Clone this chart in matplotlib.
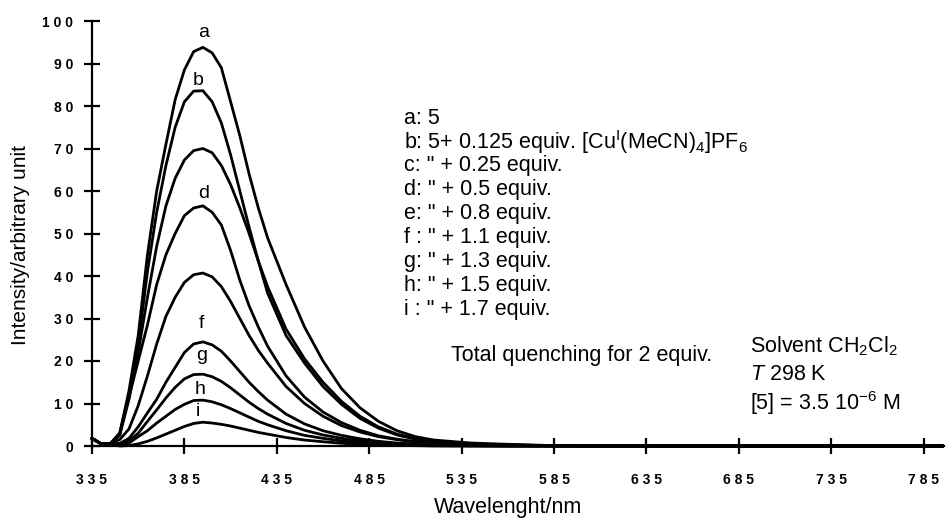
import matplotlib
matplotlib.use("Agg")
import matplotlib.pyplot as plt
from matplotlib.ticker import FuncFormatter

plt.rcParams['font.family'] = ['Liberation Sans', 'DejaVu Sans']
plt.rcParams['mathtext.fontset'] = 'custom'
plt.rcParams['mathtext.rm'] = 'Liberation Sans'
plt.rcParams['mathtext.it'] = 'Liberation Sans:italic'
plt.rcParams['mathtext.bf'] = 'Liberation Sans:bold'

# wavelength grid (nm)
wavelength = [335, 340, 345, 350, 355, 360, 365, 370, 375, 380, 385, 390, 395, 400, 405,
              410, 415, 420, 425, 430, 440, 450, 460, 470, 480, 490, 500, 510, 520,
              540, 560, 580, 600, 650, 700, 750, 795]

# emission intensities for each titration step
curve_a = [1.8, 0.5, 0.6, 3.0, 13.0, 26.0, 45.0, 60.0, 71.0, 81.5, 88.5, 92.8, 93.8, 92.5, 89.0,
           81.0, 73.0, 64.0, 56.0, 49.0, 38.0, 28.0, 20.0, 13.5, 9.0, 5.8, 3.6, 2.2, 1.4,
           0.7, 0.4, 0.15, 0.05, 0, 0, 0, 0]
curve_b = [1.8, 0.5, 0.6, 2.8, 12.0, 24.0, 41.0, 55.0, 66.0, 75.0, 81.0, 83.5, 83.6, 81.0, 76.0,
           68.5, 60.0, 51.5, 43.5, 36.0, 26.0, 19.5, 14.0, 9.8, 6.5, 4.2, 2.6, 1.6, 1.0,
           0.5, 0.25, 0.1, 0.03, 0, 0, 0, 0]
curve_c = [1.8, 0.5, 0.6, 2.5, 11.0, 22.0, 35.0, 47.0, 56.5, 63.0, 67.3, 69.5, 70.0, 69.0, 66.0,
           61.5, 56.0, 50.0, 43.5, 37.5, 27.5, 20.5, 15.0, 10.5, 7.0, 4.5, 2.8, 1.7, 1.1,
           0.5, 0.25, 0.1, 0.03, 0, 0, 0, 0]
curve_d = [1.8, 0.5, 0.6, 3.0, 11.5, 20.0, 28.5, 38.0, 45.0, 50.0, 54.2, 56.0, 56.5, 55.0, 52.0,
           46.0, 39.0, 33.0, 28.0, 23.5, 16.5, 11.5, 8.0, 5.5, 3.7, 2.4, 1.6, 1.0, 0.7,
           0.3, 0.15, 0.05, 0, 0, 0, 0, 0]
curve_e = [1.8, 0.5, 0.6, 1.5, 4.0, 9.5, 16.5, 24.0, 30.5, 35.0, 38.5, 40.3, 40.7, 39.8, 37.5,
           34.0, 30.0, 26.0, 22.5, 19.5, 14.0, 10.0, 7.0, 4.8, 3.3, 2.2, 1.5, 1.0, 0.6,
           0.3, 0.1, 0.03, 0, 0, 0, 0, 0]
curve_f = [1.8, 0.5, 0.5, 0.6, 1.8, 4.5, 7.8, 11.0, 15.0, 18.5, 22.0, 24.0, 24.5, 23.8, 22.3,
           20.0, 17.5, 15.0, 12.8, 10.8, 7.5, 5.2, 3.6, 2.5, 1.7, 1.1, 0.7, 0.45, 0.3,
           0.1, 0.03, 0, 0, 0, 0, 0, 0]
curve_g = [1.8, 0.5, 0.5, 0.4, 1.2, 3.0, 5.8, 8.5, 11.3, 13.8, 15.8, 16.8, 16.9, 16.3, 15.2,
           13.7, 12.0, 10.3, 8.8, 7.5, 5.3, 3.7, 2.6, 1.8, 1.2, 0.8, 0.5, 0.35, 0.2,
           0.1, 0, 0, 0, 0, 0, 0, 0]
curve_h = [1.8, 0.5, 0.5, 0.2, 0.7, 2.2, 3.6, 5.4, 7.0, 8.6, 9.8, 10.7, 10.8, 10.4, 9.7,
           8.8, 7.8, 6.8, 5.8, 5.0, 3.6, 2.5, 1.8, 1.2, 0.8, 0.55, 0.35, 0.2, 0.1,
           0, 0, 0, 0, 0, 0, 0, 0]
curve_i = [1.8, 0.5, 0.5, 0.0, 0.1, 0.5, 1.1, 1.9, 2.8, 3.7, 4.6, 5.3, 5.6, 5.4, 5.1,
           4.7, 4.2, 3.7, 3.2, 2.8, 2.0, 1.4, 1.0, 0.65, 0.4, 0.25, 0.15, 0.08, 0,
           0, 0, 0, 0, 0, 0, 0, 0]

curves = [curve_a, curve_b, curve_c, curve_d, curve_e, curve_f, curve_g, curve_h, curve_i]

# letters written above some of the peaks
peak_letters = ['a', 'b', 'd', 'f', 'g', 'h', 'i']
letter_pos = [(395.2, 97.2), (392.5, 86.1), (395.2, 59.5), (394.4, 28.9),
              (394.4, 21.2), (393.5, 13.4), (392.5, 8.0)]

legend_lines = [
    "a: 5",
    r"b: 5+ 0.125 equiv. [Cu$^{\mathrm{I}}$(MeCN)$_4$]PF$_6$",
    'c: " + 0.25 equiv.',
    'd: " + 0.5 equiv.',
    'e: " + 0.8 equiv.',
    'f : " + 1.1 equiv.',
    'g: " + 1.3 equiv.',
    'h: " + 1.5 equiv.',
    'i : " + 1.7 equiv.',
]

x_ticks = [335, 385, 435, 485, 535, 585, 635, 685, 735, 785]
y_ticks = [0, 10, 20, 30, 40, 50, 60, 70, 80, 90, 100]

W, H = 946, 526
fig = plt.figure(figsize=(W / 100, H / 100), dpi=100)
ax = fig.add_axes([92 / W, 80 / H, 852 / W, 425 / H])

for ys in curves:
    ax.plot(wavelength, ys, color='black', lw=2.0, solid_joinstyle='round', clip_on=False)

for lab, (xx, yy) in zip(peak_letters, letter_pos):
    ax.text(xx, yy, lab, fontsize=14, ha='center', va='center')

ax.set_xlim(335, 796)
ax.set_ylim(0, 100)
ax.set_xticks(x_ticks)
ax.set_yticks(y_ticks)
spaced = FuncFormatter(lambda v, p: " ".join(str(int(round(v)))))
ax.xaxis.set_major_formatter(spaced)
ax.yaxis.set_major_formatter(spaced)
for s in ['top', 'right']:
    ax.spines[s].set_visible(False)
for s in ['left', 'bottom']:
    ax.spines[s].set_linewidth(1.6)
ax.tick_params(axis='both', direction='inout', length=11, width=1.6, labelsize=10)
ax.tick_params(axis='x', pad=14)
ax.tick_params(axis='y', pad=8)
for t in ax.get_xticklabels() + ax.get_yticklabels():
    t.set_fontweight('bold')

fig.text(20 / W, 1 - 245 / H, "Intensity/arbitrary unit", rotation=90,
         fontsize=15, ha='center', va='center')
fig.text(508 / W, 1 - 507 / H, "Wavelenght/nm", fontsize=15.5, ha='center', va='center')

for k, line in enumerate(legend_lines):
    fig.text(404 / W, 1 - (118 + 24 * k) / H, line, fontsize=15.5, ha='left', va='center')

fig.text(451 / W, 1 - 355 / H, "Total quenching for 2 equiv.", fontsize=15.5, ha='left', va='center')
fig.text(750 / W, 1 - 346 / H, r"Solvent CH$_2$Cl$_2$", fontsize=15.5, ha='left', va='center')
fig.text(750 / W, 1 - 375 / H, r"$\mathit{T}$ 298 K", fontsize=15.5, ha='left', va='center')
fig.text(750 / W, 1 - 403 / H, r"[5] = 3.5 10$^{-6}$ M", fontsize=15.5, ha='left', va='center')

fig.savefig("out.png", dpi=100)
